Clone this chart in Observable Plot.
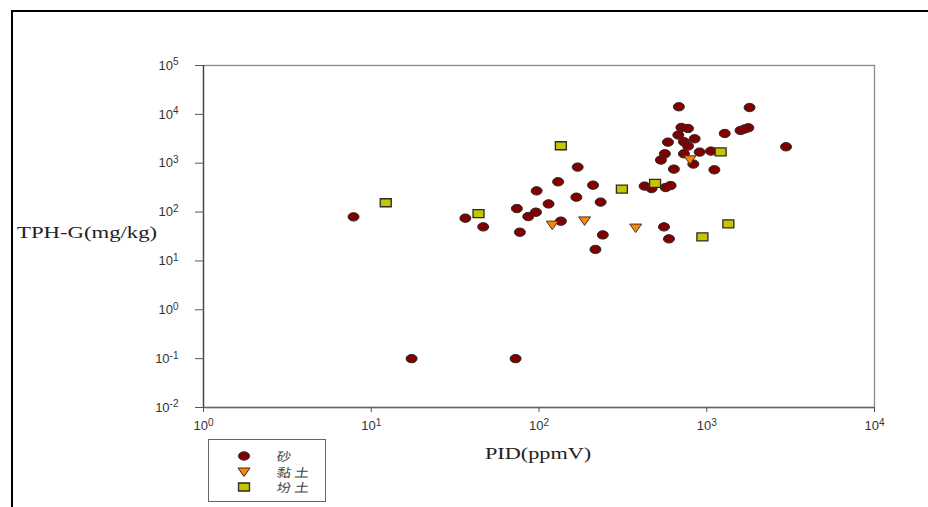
<!DOCTYPE html>
<html>
<head>
<meta charset="utf-8">
<script src="https://cdn.jsdelivr.net/npm/d3@7"></script>
<script src="https://cdn.jsdelivr.net/npm/@observablehq/plot@0.6"></script>
<style>
  html, body { margin: 0; padding: 0; background: #fff; }
  #wrap { position: relative; width: 928px; height: 507px; overflow: hidden; }
  #frameLine { position: absolute; left: 11px; top: 10px; width: 930px; height: 510px;
    border-top: 2.5px solid #000; border-left: 2.5px solid #000; pointer-events: none; }
  .axlabel { position: absolute; font-family: "Liberation Serif", "Times New Roman", serif;
    font-size: 16px; color: #222; white-space: nowrap; transform-origin: left center; }
  #legend { position: absolute; left: 208px; top: 439px; width: 118px; height: 63px;
    border: 1px solid #666; box-sizing: border-box; }
  .lgrow { position: absolute; left: 0; height: 15px; width: 118px; }
  .lgrow svg { position: absolute; left: 28px; top: 0; }
  .lgrow span { position: absolute; left: 68px; top: 0px; line-height: 15px; font-family: "Noto Sans CJK TC", "Noto Sans CJK SC", sans-serif;
    font-size: 12px; color: #444; letter-spacing: 3px; transform: scaleX(1.2) skewX(-8deg); transform-origin: left center; }
</style>
</head>
<body>
<div id="wrap"></div>
<script>
// ---- data ----
const seriesNames = ["砂", "黏土", "坋土"];
const xTicks = [1, 10, 100, 1000, 10000];
const yTicks = [1e-2, 1e-1, 1, 10, 100, 1000, 10000, 100000];

const sandPID = [682, 1800, 706, 773, 1280, 1590, 1770, 1680, 677, 847, 587, 731, 773, 2970, 563, 731, 907, 1060, 533, 832, 637, 1110, 170, 210, 426, 469, 569, 609, 167, 233, 556, 240, 595, 217, 7.84, 36.4, 46.5, 73.8, 86.3, 95.9, 76.9, 114, 96.8, 130, 135, 17.4, 72.5];
const sandTPH = [14300, 13800, 5390, 5140, 4060, 4680, 5310, 5000, 3770, 3160, 2700, 2750, 2240, 2170, 1560, 1560, 1690, 1770, 1160, 960, 757, 733, 832, 356, 340, 303, 318, 349, 202, 160, 49.8, 34.1, 28.3, 17.2, 79.8, 75, 49.8, 118, 80.9, 99.5, 38.7, 147, 272, 416, 65.2, 0.1, 0.1];

const clayPID = [794, 187, 377, 120];
const clayTPH = [1175, 66, 47, 54];

const siltPID = [1210, 312, 492, 1345, 942, 12.2, 43.6, 135];
const siltTPH = [1710, 296, 387, 57.3, 31, 155, 93, 2280];

// ---- build tables ----
const zip = (xs, ys) => xs.map((x, i) => ({pid: x, tph: ys[i]}));
const sand = zip(sandPID, sandTPH);
const clay = zip(clayPID, clayTPH);
const silt = zip(siltPID, siltTPH);

// ---- custom symbols ----
const ellipseSym = {draw(ctx) {
  const rx = 5.5, ry = 4.2, k = 0.5523;
  ctx.moveTo(rx, 0);
  ctx.bezierCurveTo(rx, ry * k, rx * k, ry, 0, ry);
  ctx.bezierCurveTo(-rx * k, ry, -rx, ry * k, -rx, 0);
  ctx.bezierCurveTo(-rx, -ry * k, -rx * k, -ry, 0, -ry);
  ctx.bezierCurveTo(rx * k, -ry, rx, -ry * k, rx, 0);
  ctx.closePath();
}};
const rectSym = {draw(ctx) { ctx.rect(-5.5, -4, 11, 8); }};
const triSym = {draw(ctx) {
  ctx.moveTo(-6, -4); ctx.lineTo(6, -4); ctx.lineTo(0, 4.5); ctx.closePath();
}};

const sup = e => "10^" + e;

const chart = Plot.plot({
  width: 928,
  height: 507,
  marginLeft: 203,
  marginRight: 54,
  marginTop: 65,
  marginBottom: 100,
  style: {fontFamily: "'Liberation Sans', Arial, sans-serif", fontSize: "13px", color: "#333", background: "transparent"},
  x: {type: "log", domain: [1, 1e4]},
  y: {type: "log", domain: [1e-2, 1e5]},
  marks: [
    Plot.frame({stroke: "#8a8a8a", strokeWidth: 1.3}),
    Plot.ruleX([1], {stroke: "#444", strokeWidth: 1.3}),
    Plot.ruleY([1e-2], {stroke: "#666", strokeWidth: 1.3}),
    Plot.axisX({ticks: xTicks, tickFormat: d => sup(Math.round(Math.log10(d))), tickSize: 5, tickPadding: 8,
      label: null, fontSize: 13, stroke: "#555", fill: "#333"}),
    Plot.axisY({ticks: yTicks, tickFormat: d => sup(Math.round(Math.log10(d))), tickSize: 8, tickPadding: 17,
      label: null, fontSize: 13, stroke: "#555", fill: "#333"}),
    Plot.dot(sand, {x: "pid", y: "tph", symbol: ellipseSym, fill: "#800000", stroke: "#2a2a2a", strokeWidth: 1}),
    Plot.dot(clay, {x: "pid", y: "tph", symbol: triSym, fill: "#ff8400", stroke: "#3a3a3a", strokeWidth: 1}),
    Plot.dot(silt, {x: "pid", y: "tph", symbol: rectSym, fill: "#c8c400", stroke: "#2a2a2a", strokeWidth: 1.3})
  ]
});

// superscript tick labels
d3.select(chart).selectAll("g[aria-label$='tick label'] text").each(function() {
  const t = d3.select(this);
  const s = t.text();
  if (s.startsWith("10^")) {
    const e = s.slice(3);
    t.text("10");
    t.append("tspan").attr("dy", "-0.42em").attr("font-size", "10px").text(e);
  }
});

const wrap = document.getElementById("wrap");
wrap.appendChild(chart);
chart.style.position = "absolute";
chart.style.left = "0px";
chart.style.top = "0px";

const frameDiv = document.createElement("div");
frameDiv.id = "frameLine";
wrap.appendChild(frameDiv);

// axis titles
const yl = document.createElement("div");
yl.className = "axlabel";
yl.textContent = "TPH-G(mg/kg)";
yl.style.left = "17px"; yl.style.top = "224px";
yl.style.transform = "scaleX(1.42)";
wrap.appendChild(yl);

const xl = document.createElement("div");
xl.className = "axlabel";
xl.textContent = "PID(ppmV)";
xl.style.left = "485px"; xl.style.top = "445px";
xl.style.transform = "scaleX(1.39)";
wrap.appendChild(xl);

// legend
const legend = document.createElement("div");
legend.id = "legend";
const syms = [
  {path: d3.symbol(ellipseSym)(), fill: "#800000", sw: 1},
  {path: d3.symbol(triSym)(), fill: "#ff8400", sw: 1},
  {path: d3.symbol(rectSym)(), fill: "#c8c400", sw: 1.3}
];
const rowTops = [8, 24, 39];
seriesNames.forEach((name, i) => {
  const row = document.createElement("div");
  row.className = "lgrow";
  row.style.top = rowTops[i] + "px";
  row.innerHTML = `<svg width="14" height="16" viewBox="-7 -8 14 16"><path d="${syms[i].path}" fill="${syms[i].fill}" stroke="#2a2a2a" stroke-width="${syms[i].sw}"/></svg><span>${name}</span>`;
  legend.appendChild(row);
});
wrap.appendChild(legend);
</script>
</body>
</html>
